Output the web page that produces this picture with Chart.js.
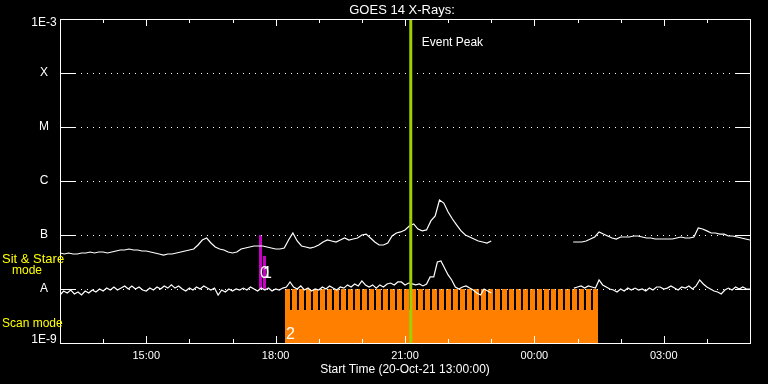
<!DOCTYPE html>
<html lang="en">
<head>
<meta charset="UTF-8">
<title>GOES 14 X-Rays</title>
<script src="https://cdn.jsdelivr.net/npm/chart.js"></script>
<style>
  body { margin: 0; background: #000; }
  #chart { display: block; }
</style>
</head>
<body>
<canvas id="chart" width="768" height="384"></canvas>
<script>
// times are minutes after the start time, 20-Oct-21 13:00
const chartTitle = 'GOES 14 X-Rays:';
const xTitle = 'Start Time (20-Oct-21 13:00:00)';
const xMinorTicks = [60, 120, 180, 240, 300, 360, 420, 480, 540, 600, 660, 720, 780, 840, 900];
const xMajorTicks = [120, 300, 480, 660, 840];
const xMajorLabels = ['15:00', '18:00', '21:00', '00:00', '03:00'];

const yTicks = [1e-9, 1e-8, 1e-7, 1e-6, 1e-5, 1e-4, 1e-3];
const yTickLabels = ['1E-9', 'A', 'B', 'C', 'M', 'X', '1E-3'];
const yDottedLevels = [1e-8, 1e-7, 1e-6, 1e-5, 1e-4];

// GOES long channel (1-8 A)
const longTimes = [
  0, 6, 12, 18, 24, 30, 36, 42, 48, 54,
  60, 66, 72, 78, 84, 90, 96, 102, 108, 114,
  120, 126, 132, 138, 144, 150, 156, 162, 168, 174,
  180, 186, 192, 198, 204, 210, 216, 222, 228, 234,
  240, 246, 252, 258, 264, 270, 276, 282, 288, 294,
  300, 306, 312, 318, 324, 330, 336, 342, 348, 354,
  360, 366, 372, 378, 384, 390, 396, 402, 408, 414,
  420, 426, 432, 438, 444, 450, 456, 462, 468, 474,
  480, 486, 492, 498, 504, 510, 516, 522, 528, 534,
  540, 546, 552, 558, 564, 570, 576, 582, 588, 594,
  600,
  660,
  714, 720, 726, 732, 738, 744, 750, 756, 762, 768,
  774, 780, 786, 792, 798, 804, 810, 816, 822, 828,
  834, 840, 846, 852, 858, 864, 870, 876, 882, 888,
  894, 900, 906, 912, 918, 924, 930, 936, 942, 948,
  954, 960
];
const longFlux = [
  4.64e-8, 4.45e-8, 4.64e-8, 4.45e-8, 4.45e-8, 4.64e-8, 4.64e-8, 4.84e-8, 4.64e-8, 4.84e-8,
  4.84e-8, 4.64e-8, 4.84e-8, 5.05e-8, 5.27e-8, 5.27e-8, 5.50e-8, 5.27e-8, 5.27e-8, 5.05e-8,
  5.05e-8, 4.84e-8, 4.64e-8, 4.45e-8, 4.26e-8, 4.45e-8, 4.45e-8, 4.64e-8, 4.84e-8, 5.05e-8,
  5.27e-8, 5.50e-8, 6.53e-8, 8.08e-8, 8.80e-8, 7.11e-8, 5.99e-8, 5.50e-8, 5.27e-8, 4.84e-8,
  4.64e-8, 4.84e-8, 5.50e-8, 5.74e-8, 5.99e-8, 6.26e-8, 6.26e-8, 6.26e-8, 5.99e-8, 5.74e-8,
  5.50e-8, 5.50e-8, 5.74e-8, 8.08e-8, 1.09e-7, 7.74e-8, 6.26e-8, 5.99e-8, 5.74e-8, 5.99e-8,
  6.53e-8, 7.42e-8, 8.08e-8, 7.74e-8, 7.42e-8, 8.08e-8, 8.80e-8, 8.08e-8, 8.43e-8, 8.80e-8,
  1.00e-7, 1.04e-7, 8.80e-8, 7.42e-8, 6.53e-8, 6.53e-8, 7.11e-8, 9.58e-8, 1.09e-7, 1.14e-7,
  1.24e-7, 1.47e-7, 1.60e-7, 1.29e-7, 1.19e-7, 1.24e-7, 1.82e-7, 2.25e-7, 4.44e-7, 3.90e-7,
  2.67e-7, 1.98e-7, 1.53e-7, 1.19e-7, 1.00e-7, 9.18e-8, 8.43e-8, 7.74e-8, 7.42e-8, 7.11e-8,
  7.74e-8,
  null,
  7.42e-8, 7.42e-8, 7.42e-8, 7.74e-8, 8.43e-8, 9.18e-8, 1.14e-7, 1.04e-7, 9.58e-8, 8.80e-8,
  8.43e-8, 9.18e-8, 9.18e-8, 9.18e-8, 9.58e-8, 9.58e-8, 9.18e-8, 8.80e-8, 8.80e-8, 8.43e-8,
  8.43e-8, 8.43e-8, 8.43e-8, 8.43e-8, 8.80e-8, 9.18e-8, 8.80e-8, 8.80e-8, 9.18e-8, 1.35e-7,
  1.29e-7, 1.19e-7, 1.09e-7, 1.09e-7, 1.04e-7, 1.04e-7, 9.58e-8, 9.58e-8, 9.18e-8, 8.80e-8,
  8.43e-8, 8.08e-8
];

// GOES short channel (0.5-4 A)
const shortTimes = [
  0, 5, 10, 15, 20, 25, 30, 35, 40, 45,
  50, 55, 60, 65, 70, 75, 80, 85, 90, 95,
  100, 105, 110, 115, 120, 125, 130, 135, 140, 145,
  150, 155, 160, 165, 170, 175, 180, 185, 190, 195,
  200, 205, 210, 215, 220, 225, 230, 235, 240, 245,
  250, 255, 260, 265, 270, 275, 280, 285, 290, 295,
  300, 305, 310, 315, 320, 325, 330, 335, 340, 345,
  350, 355, 360, 365, 370, 375, 380, 385, 390, 395,
  400, 405, 410, 415, 420, 425, 430, 435, 440, 445,
  450, 455, 460, 465, 470, 475, 480, 485, 490, 495,
  500, 505, 510, 515, 520, 525, 530, 535, 540, 545,
  550, 555, 560, 565, 570, 575, 580, 585, 590, 595,
  600,
  660,
  715, 720, 725, 730, 735, 740, 745, 750, 755, 760,
  765, 770, 775, 780, 785, 790, 795, 800, 805, 810,
  815, 820, 825, 830, 835, 840, 845, 850, 855, 860,
  865, 870, 875, 880, 885, 890, 895, 900, 905, 910,
  915, 920, 925, 930, 935, 940, 945, 950, 955, 960
];
const shortFlux = [
  7.74e-9, 9.18e-9, 8.43e-9, 9.58e-9, 8.08e-9, 8.80e-9, 7.74e-9, 9.18e-9, 8.43e-9, 9.58e-9,
  8.80e-9, 1.00e-8, 9.18e-9, 1.04e-8, 9.58e-9, 1.09e-8, 9.58e-9, 1.04e-8, 1.14e-8, 1.00e-8,
  1.14e-8, 1.00e-8, 1.09e-8, 9.58e-9, 9.18e-9, 1.04e-8, 9.58e-9, 1.09e-8, 1.00e-8, 1.14e-8,
  1.04e-8, 1.19e-8, 1.04e-8, 1.14e-8, 1.00e-8, 9.18e-9, 1.04e-8, 9.58e-9, 1.09e-8, 1.00e-8,
  1.14e-8, 1.04e-8, 9.58e-9, 1.04e-8, 7.74e-9, 9.58e-9, 8.80e-9, 1.00e-8, 9.18e-9, 1.00e-8,
  9.58e-9, 1.04e-8, 9.58e-9, 1.09e-8, 1.00e-8, 9.18e-9, 1.04e-8, 9.58e-9, 1.04e-8, 9.18e-9,
  1.00e-8, 9.58e-9, 1.04e-8, 1.09e-8, 1.35e-8, 1.09e-8, 1.00e-8, 1.14e-8, 9.58e-9, 1.04e-8,
  9.18e-9, 1.00e-8, 9.58e-9, 1.09e-8, 1.00e-8, 1.14e-8, 1.04e-8, 9.58e-9, 1.09e-8, 1.04e-8,
  1.19e-8, 1.09e-8, 1.24e-8, 1.14e-8, 1.41e-8, 1.19e-8, 1.09e-8, 1.19e-8, 1.04e-8, 1.19e-8,
  1.09e-8, 1.24e-8, 1.29e-8, 1.19e-8, 1.35e-8, 1.35e-8, 1.19e-8, 1.29e-8, 1.24e-8, 1.19e-8,
  1.24e-8, 1.14e-8, 1.24e-8, 1.67e-8, 1.67e-8, 3.16e-8, 3.30e-8, 2.45e-8, 1.82e-8, 1.47e-8,
  1.09e-8, 1.00e-8, 1.09e-8, 1.14e-8, 1.04e-8, 9.58e-9, 8.43e-9, 7.74e-9, 1.00e-8, 9.18e-9,
  8.43e-9,
  null,
  1.04e-8, 1.09e-8, 1.14e-8, 1.04e-8, 1.14e-8, 1.09e-8, 1.04e-8, 1.47e-8, 1.19e-8, 1.09e-8,
  1.00e-8, 9.58e-9, 8.80e-9, 1.00e-8, 9.18e-9, 1.04e-8, 9.58e-9, 1.04e-8, 9.58e-9, 1.00e-8,
  9.18e-9, 1.04e-8, 9.58e-9, 1.09e-8, 1.09e-8, 1.00e-8, 1.04e-8, 1.14e-8, 1.04e-8, 9.58e-9,
  1.09e-8, 1.04e-8, 1.14e-8, 1.00e-8, 1.14e-8, 1.47e-8, 1.24e-8, 1.09e-8, 1.00e-8, 9.18e-9,
  8.80e-9, 8.08e-9, 9.58e-9, 1.04e-8, 9.58e-9, 1.09e-8, 1.00e-8, 1.09e-8, 1.00e-8, 1.00e-8
];

const eventPeakTime = 488;
const eventLabel = 'Event Peak';

// sit & stare pointings
const stareTimes = [279, 284.5];
const stareTops = [1e-7, 4.1e-8];
const stareBase = 1e-8;
const stareLabels = ['0', '1'];

// scan mode rasters
const scanTimes = [
  316.5, 326.2, 336.0, 345.7, 355.5, 365.2, 374.9, 384.7, 394.4, 404.2,
  413.9, 423.6, 433.4, 443.1, 452.8, 462.6, 472.3, 482.1, 491.8, 501.5,
  511.3, 521.0, 530.8, 540.5, 550.2, 560.0, 569.7, 579.5, 589.2, 598.9,
  608.7, 618.4, 628.2, 637.9, 647.6, 657.4, 667.1, 676.9, 686.6, 696.3,
  706.1, 715.8, 725.5, 735.3, 745.0
];
const scanTop = 1e-8;
const scanBandTimes = [313, 748.5];
const scanBandTop = 4.1e-9;
const scanLabel = '2';

const FONT = '"Liberation Sans", Arial, sans-serif';
const ORANGE = '#ff8000';

function pairs(xs, ys) {
    return xs.map((t, i) => ({ x: t, y: ys[i] }));
}

const overlay = {
    id: 'overlay',
    // dotted level lines go just under the event line
    beforeDatasetDraw(chart, args) {
        if (args.index !== 0) return;
        const { ctx, chartArea: a, scales: { y } } = chart;
        ctx.save();
        ctx.strokeStyle = '#fff';
        ctx.lineWidth = 1;
        ctx.setLineDash([1, 5]);
        yDottedLevels.forEach(v => {
            const py = Math.round(y.getPixelForValue(v)) + 0.5;
            ctx.beginPath();
            ctx.moveTo(a.left + 15, py);
            ctx.lineTo(a.right - 14, py);
            ctx.stroke();
        });
        ctx.restore();
    },
    afterDraw(chart) {
        const { ctx, chartArea: a, scales: { x, y } } = chart;
        ctx.save();
        ctx.strokeStyle = '#fff';
        ctx.lineWidth = 1;
        ctx.strokeRect(a.left + 0.5, a.top + 0.5, a.right - a.left, a.bottom - a.top);

        // inward ticks
        ctx.beginPath();
        xMinorTicks.forEach(v => {
            const px = Math.round(x.getPixelForValue(v)) + 0.5;
            const len = xMajorTicks.includes(v) ? 7 : 4;
            ctx.moveTo(px, a.bottom);
            ctx.lineTo(px, a.bottom - len);
            ctx.moveTo(px, a.top);
            ctx.lineTo(px, a.top + len);
        });
        yTicks.forEach(v => {
            const py = Math.round(y.getPixelForValue(v)) + 0.5;
            ctx.moveTo(a.left, py);
            ctx.lineTo(a.left + 15, py);
            ctx.moveTo(a.right - 14, py);
            ctx.lineTo(a.right, py);
        });
        ctx.stroke();

        ctx.fillStyle = '#fff';
        ctx.textBaseline = 'middle';
        ctx.textAlign = 'center';
        ctx.font = '13px ' + FONT;
        ctx.fillText(chartTitle, (a.left + a.right) / 2 - 3, 10);

        ctx.font = '12px ' + FONT;
        yTicks.forEach((v, i) => {
            let py = y.getPixelForValue(v);
            py = Math.min(Math.max(py, a.top + 4), a.bottom - 3);
            ctx.fillText(yTickLabels[i], 44, py);
        });

        ctx.textAlign = 'left';
        ctx.fillText(eventLabel, x.getPixelForValue(eventPeakTime) + 11, a.top + 24);

        ctx.fillStyle = '#ff0';
        ctx.font = '13px ' + FONT;
        ctx.fillText('Sit & Stare', 2, y.getPixelForValue(3.6e-8));
        ctx.font = '12px ' + FONT;
        ctx.fillText('mode', 12, y.getPixelForValue(2.15e-8));
        ctx.fillText('Scan mode', 2, y.getPixelForValue(2.25e-9));

        // pointing numbers
        ctx.fillStyle = '#fff';
        ctx.font = '16px ' + FONT;
        ctx.textBaseline = 'alphabetic';
        const base = y.getPixelForValue(stareBase) - 11;
        ctx.fillText(stareLabels[0], x.getPixelForValue(stareTimes[0]) - 0.5, base);
        ctx.fillText(stareLabels[1], x.getPixelForValue(stareTimes[1]) - 1.5, base);
        ctx.fillText(scanLabel, x.getPixelForValue(scanBandTimes[0]) + 1, a.bottom - 4);
        ctx.restore();
    }
};

new Chart(document.getElementById('chart'), {
    type: 'line',
    data: {
        datasets: [
            {
                data: [{ x: eventPeakTime, y: 1e-9 }, { x: eventPeakTime, y: 1e-3 }],
                borderColor: '#a0d000',
                borderWidth: 3,
                pointRadius: 0,
                order: 0
            },
            {
                data: pairs(shortTimes, shortFlux),
                borderColor: '#fff',
                borderWidth: 1.2,
                pointRadius: 0,
                order: 1
            },
            {
                data: pairs(longTimes, longFlux),
                borderColor: '#fff',
                borderWidth: 1.2,
                pointRadius: 0,
                order: 2
            },
            {
                type: 'bar',
                data: stareTimes.map((t, i) => ({ x: t, y: [stareBase, stareTops[i]] })),
                backgroundColor: '#c800c8',
                barThickness: 3,
                grouped: false,
                inflateAmount: 0,
                order: 3
            },
            {
                type: 'bar',
                data: scanTimes.map(t => ({ x: t, y: [1e-9, scanTop] })),
                backgroundColor: ORANGE,
                barThickness: 5,
                grouped: false,
                inflateAmount: 0,
                order: 4
            },
            {
                data: scanBandTimes.map(t => ({ x: t, y: scanBandTop })),
                backgroundColor: ORANGE,
                borderWidth: 0,
                pointRadius: 0,
                fill: 'start',
                order: 5
            }
        ]
    },
    options: {
        responsive: false,
        animation: false,
        events: [],
        layout: { padding: { top: 19, right: 18, left: 0, bottom: 0 } },
        plugins: {
            legend: { display: false },
            tooltip: { enabled: false }
        },
        scales: {
            x: {
                type: 'linear',
                min: 0,
                max: 960,
                offset: false,
                grid: { display: false, drawTicks: false },
                border: { display: false },
                afterBuildTicks: s => { s.ticks = xMajorTicks.map(v => ({ value: v })); },
                afterFit: s => { s.height = 41; },
                ticks: {
                    color: '#fff',
                    font: { family: FONT, size: 11 },
                    padding: 6,
                    maxRotation: 0,
                    autoSkip: false,
                    callback: (v, i) => xMajorLabels[i]
                },
                title: {
                    display: true,
                    text: xTitle,
                    color: '#fff',
                    font: { family: FONT, size: 12 },
                    padding: { top: 0, bottom: 7 }
                }
            },
            y: {
                type: 'logarithmic',
                min: 1e-9,
                max: 1e-3,
                grid: { display: false, drawTicks: false },
                border: { display: false },
                ticks: { display: false },
                afterFit: s => { s.width = 60; }
            }
        }
    },
    plugins: [overlay]
});
</script>
</body>
</html>
